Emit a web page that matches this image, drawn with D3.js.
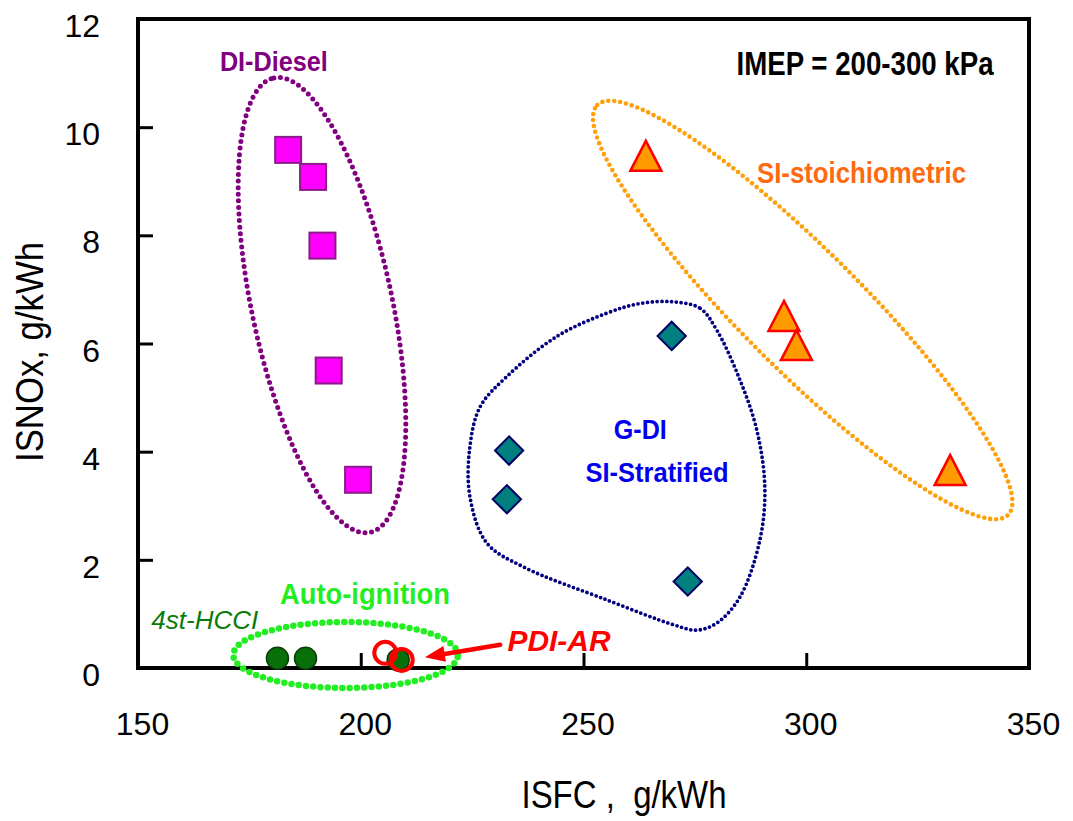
<!DOCTYPE html>
<html>
<head>
<meta charset="utf-8">
<script src="https://cdn.jsdelivr.net/npm/d3@7"></script>
<style>
  body { margin: 0; background: #fff; }
  svg { display: block; }
  text { font-family: "Liberation Sans", Arial, sans-serif; }
</style>
</head>
<body>
<svg id="chart" width="1073" height="821"></svg>
<script>
// ISFC (g/kWh) vs ISNOx (g/kWh)
var xTicks = [150, 200, 250, 300, 350];
var yTicks = [0, 2, 4, 6, 8, 10, 12];

var diesel   = [[183.7, 9.58], [189.3, 9.08], [191.4, 7.81], [192.8, 5.50], [199.4, 3.48]];
var gdi      = [[269.8, 6.14], [233.3, 4.02], [232.8, 3.12], [273.4, 1.60]];
var siStoich = [[264.0, 9.47], [295.0, 6.51], [297.8, 5.97], [332.3, 3.66]];
var hcci     = [[181.3, 0.18], [187.6, 0.18], [208.4, 0.15]];
var pdiAr    = [[205.5, 0.28], [209.2, 0.15]];

// group outlines, in data units: centre, end of one axis, end of other axis
var dieselRing = { c: [191.3, 6.71], u: [180.5, 10.91], v: [206.7, 6.98] };
var stoichRing = { c: [299.2, 6.62], u: [253.1, 10.41], v: [308.7, 7.40] };
var autoRing   = { c: [196.6, 0.24], u: [221.8, 0.24], v: [196.6, 0.85] };
var gdiOutline = [
    [270.2, 6.77], [276.2, 6.65], [279.9, 6.25], [285.1, 5.33], [288.9, 4.40],
    [290.7, 3.35], [289.6, 2.37], [285.1, 1.31], [279.9, 0.83], [275.4, 0.70],
    [270.2, 0.80], [255.2, 1.26], [236.5, 1.87], [228.3, 2.31], [224.5, 3.17],
    [224.5, 4.09], [226.8, 4.83], [232.8, 5.39], [244.0, 6.13], [255.2, 6.56],
    [262.7, 6.74]
];

var labelText = ["DI-Diesel", "IMEP = 200-300 kPa", "SI-stoichiometric", "G-DI",
                 "SI-Stratified", "Auto-ignition", "4st-HCCI", "PDI-AR"];
var labelAt = [[180.5, 11.04], [313.2, 10.97], [312.4, 8.97], [262.75, 4.23],
               [266.5, 3.43], [200.95, 1.18], [165.0, 0.72], [244.5, 0.31]];
var arrowFrom = [231.3, 0.43], arrowTo = [214.4, 0.20];

var W = 1073, H = 821;
var margin = {top: 19, right: 44, bottom: 153, left: 138};

var svg = d3.select("#chart");
var x = d3.scaleLinear().domain([150, 350]).range([margin.left, W - margin.right]);
var y = d3.scaleLinear().domain([0, 12]).range([H - margin.bottom, margin.top]);

// axes with inward ticks
var xAxis = svg.append("g")
    .attr("transform", "translate(0," + y(0) + ")")
    .call(d3.axisBottom(x).tickValues(xTicks).tickSize(-15).tickPadding(44));
var yAxis = svg.append("g")
    .attr("transform", "translate(" + x(150) + ",0)")
    .call(d3.axisLeft(y).tickValues(yTicks).tickSize(-15).tickPadding(38).tickFormat(d3.format("d")));

[xAxis, yAxis].forEach(function(g){
    g.select(".domain").remove();
    g.selectAll(".tick line").attr("stroke", "#000").attr("stroke-width", 3);
    g.selectAll(".tick text")
        .attr("fill", "#000")
        .attr("font-size", 32)
        .attr("font-family", "'Liberation Sans', Arial, sans-serif");
});
xAxis.selectAll(".tick text").attr("dx", 4);
yAxis.selectAll(".tick text").attr("dy", "0.55em");

// frame
svg.append("rect")
    .attr("x", x(150)).attr("y", y(12))
    .attr("width", x(350) - x(150)).attr("height", y(0) - y(12))
    .attr("fill", "none").attr("stroke", "#000").attr("stroke-width", 4);

// axis titles
svg.append("text")
    .attr("x", 624).attr("y", 808)
    .attr("text-anchor", "middle")
    .attr("font-size", 38)
    .attr("textLength", 205).attr("lengthAdjust", "spacingAndGlyphs")
    .style("white-space", "pre")
    .text("ISFC ,  g/kWh");
svg.append("text")
    .attr("transform", "translate(43,352) rotate(-90)")
    .attr("text-anchor", "middle")
    .attr("font-size", 38)
    .attr("textLength", 220).attr("lengthAdjust", "spacingAndGlyphs")
    .text("ISNOx, g/kWh");

// dotted group outlines
var ringPoints = function(r){
    var c = [x(r.c[0]), y(r.c[1])];
    var u = [x(r.u[0]) - c[0], y(r.u[1]) - c[1]];
    var v = [x(r.v[0]) - c[0], y(r.v[1]) - c[1]];
    return d3.range(0, 360, 1).map(function(a){
        var t = a * Math.PI / 180;
        return [c[0] + u[0] * Math.cos(t) + v[0] * Math.sin(t),
                c[1] + u[1] * Math.cos(t) + v[1] * Math.sin(t)];
    });
};
var closedLine = d3.line().curve(d3.curveLinearClosed);
var dotted = function(path, color, w, gap){
    path.attr("fill", "none").attr("stroke", color)
        .attr("stroke-width", w).attr("stroke-linecap", "round")
        .attr("stroke-dasharray", "0 " + gap);
};

svg.append("path").attr("d", closedLine(ringPoints(dieselRing))).call(dotted, "#800080", 5, 6.6);
svg.append("path").attr("d", closedLine(ringPoints(stoichRing))).call(dotted, "#FFA00A", 4.6, 6);
svg.append("path")
    .attr("d", d3.line().x(function(d){return x(d[0])}).y(function(d){return y(d[1])})
        .curve(d3.curveCatmullRomClosed)(gdiOutline))
    .call(dotted, "#000080", 3.8, 4.8);
svg.append("path").attr("d", closedLine(ringPoints(autoRing))).call(dotted, "#22EE22", 6.5, 7.3);

// markers
svg.append("g").selectAll("rect").data(diesel).enter().append("rect")
    .attr("x", function(d){return x(d[0]) - 13})
    .attr("y", function(d){return y(d[1]) - 13})
    .attr("width", 26).attr("height", 26)
    .attr("fill", "#FF00FF").attr("stroke", "#8B1A8B").attr("stroke-width", 2);

svg.append("g").selectAll("path").data(gdi).enter().append("path")
    .attr("d", d3.symbol().type(d3.symbolSquare).size(400))
    .attr("transform", function(d){return "translate(" + x(d[0]) + "," + y(d[1]) + ") rotate(45)"})
    .attr("fill", "#007F7F").attr("stroke", "#000066").attr("stroke-width", 2);

svg.append("g").selectAll("path").data(siStoich).enter().append("path")
    .attr("d", "M0,-15L15.5,15L-15.5,15Z")
    .attr("transform", function(d){return "translate(" + x(d[0]) + "," + y(d[1]) + ")"})
    .attr("fill", "#FF9A00").attr("stroke", "#FF0000").attr("stroke-width", 2.5);

svg.append("g").selectAll("circle").data(hcci).enter().append("circle")
    .attr("cx", function(d){return x(d[0])})
    .attr("cy", function(d){return y(d[1])})
    .attr("r", 11)
    .attr("fill", "#087008").attr("stroke", "#0B3D0B").attr("stroke-width", 1.5);

svg.append("g").selectAll("circle").data(pdiAr).enter().append("circle")
    .attr("cx", function(d){return x(d[0])})
    .attr("cy", function(d){return y(d[1])})
    .attr("r", 11)
    .attr("fill", "none").attr("stroke", "#FF0000").attr("stroke-width", 4);

// arrow to PDI-AR
var ax0 = x(arrowFrom[0]), ay0 = y(arrowFrom[1]), ax1 = x(arrowTo[0]), ay1 = y(arrowTo[1]);
var ang = Math.atan2(ay1 - ay0, ax1 - ax0);
var headLen = 20, headW = 8;
var bx = ax1 - headLen * Math.cos(ang), by = ay1 - headLen * Math.sin(ang);
svg.append("line")
    .attr("x1", ax0).attr("y1", ay0).attr("x2", bx).attr("y2", by)
    .attr("stroke", "#FF0000").attr("stroke-width", 4.5).attr("stroke-linecap", "round");
svg.append("path")
    .attr("d", "M" + ax1 + "," + ay1 +
        "L" + (bx + headW * Math.sin(ang)) + "," + (by - headW * Math.cos(ang)) +
        "L" + (bx - headW * Math.sin(ang)) + "," + (by + headW * Math.cos(ang)) + "Z")
    .attr("fill", "#FF0000");

// group labels
var labelColor = ["#800080", "#000000", "#FF6A10", "#0000EE", "#0000EE", "#22EE22", "#0A7A0A", "#FF0000"];
var labelSize  = [28, 33, 29, 28, 28, 29, 26, 30];
var labelWidth = [108, 257, 209, 53, 143, 170, 107, 103];
var labelStyle = ["normal", "normal", "normal", "normal", "normal", "normal", "italic", "italic"];
var labelWeight = ["bold", "bold", "bold", "bold", "bold", "bold", "normal", "bold"];

svg.append("g").selectAll("text").data(labelText).enter().append("text")
    .attr("x", function(d, i){return x(labelAt[i][0])})
    .attr("y", function(d, i){return y(labelAt[i][1])})
    .attr("text-anchor", "middle")
    .attr("font-size", function(d, i){return labelSize[i]})
    .attr("font-weight", function(d, i){return labelWeight[i]})
    .attr("font-style", function(d, i){return labelStyle[i]})
    .attr("fill", function(d, i){return labelColor[i]})
    .attr("textLength", function(d, i){return labelWidth[i]})
    .attr("lengthAdjust", "spacingAndGlyphs")
    .text(function(d){return d});
</script>
</body>
</html>
